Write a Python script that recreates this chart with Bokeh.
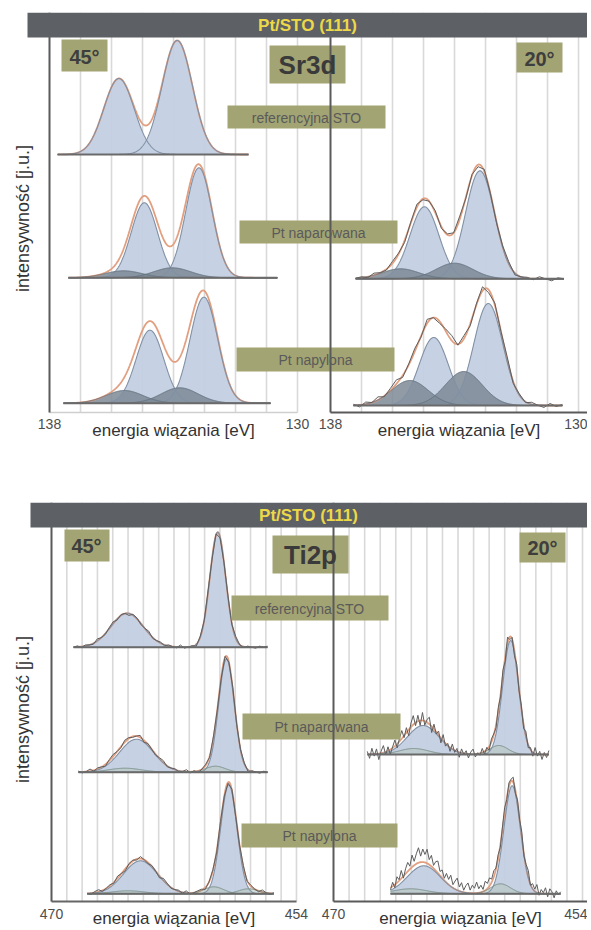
import numpy as np
from bokeh.plotting import figure
from bokeh.models import Range1d, LinearAxis, FixedTicker, BoxAnnotation, Label
from bokeh.layouts import column
from bokeh.embed import file_html
from bokeh.resources import INLINE

FONT = "Liberation Sans"

# ---------------- texts ----------------
banner_title = "Pt/STO (111)"
angle_labels = ["45°", "20°"]
row_labels = ["referencyjna STO", "Pt naparowana", "Pt napylona"]
element_labels = ["Sr3d", "Ti2p"]
x_title = "energia wiązania [eV]"
y_title = "intensywność [j.u.]"

# ---------------- axes ----------------
sr_ticks = [138, 130]
sr_gridlines = [137, 136, 135, 134, 133, 132, 131, 130]
ti_ticks = [470, 454]
ti_gridlines = [469, 468, 467, 466, 465, 464, 463, 462, 461, 460, 459, 458, 457, 456, 455, 454]

# ---------------- spectra ----------------
# components: [centre eV, height (a.u.), FWHM eV]; base = vertical offset of the trace
sr45_ref = dict(span=[137.74, 131.58], base=258.0,
                main=[[135.76, 76, 1.15], [133.88, 114, 1.15]], sec=[], noise=None)
sr45_nap = dict(span=[137.39, 130.65], base=134.7,
                main=[[134.94, 75, 1.0], [133.18, 110, 1.0]],
                sec=[[135.61, 7, 1.4], [134.04, 10, 1.4]], noise=None)
sr45_nyl = dict(span=[137.55, 130.87], base=9.3,
                main=[[134.76, 73, 1.05], [133.02, 106, 1.05]],
                sec=[[135.58, 12.7, 1.4], [133.80, 15.4, 1.4]], noise=None)
sr20_nap_noise = [0, 1, -1, 2, 0, -1, 2, 1, -2, 1, 3, -1, 0, 2, -2, 1, 0, 3, -1, 1,
                  -2, 2, 0, -1, 1, 2, -2, 0, 1, -1, 2, 0, -2, 1, 0]
sr20_nap = dict(span=[137.19, 130.47], base=133.7,
                main=[[134.97, 72, 1.1], [133.18, 108, 1.1]],
                sec=[[135.74, 10, 1.4], [134.00, 15.6, 1.4]], noise=sr20_nap_noise)
sr20_nyl_noise = [1, -2, 2, 0, 3, -1, 2, 4, -2, 1, 3, -1, 4, 0, -2, 2, 5, -1, 3, -2,
                  1, 4, -3, 2, 0, 3, -2, 1, -1, 2, 0, -2, 2, -1, 1]
sr20_nyl = dict(span=[137.26, 130.52], base=7.0,
                main=[[134.67, 68, 1.1], [132.91, 102, 1.1]],
                sec=[[135.44, 25, 1.4], [133.70, 34, 1.4]], noise=sr20_nyl_noise)

ti45_ref_noise = [0, 1, -1, 1, 0, -1, 2, 0, -1, 1, 2, -1, 1, 0, -2, 1, 1, -1, 0, 2,
                  -1, 0, 1, -1, 1, 0, -1, 2, -1, 0, 1, -2, 1, 0, 2, -1, 1, -1, 0, 1,
                  -1, 2, 0, -1, 1, 0, -1, 1, 0, 1]
ti45_ref = dict(span=[468.56, 455.89], base=254.3,
                main=[[465.06, 34, 2.5], [459.14, 115, 1.22]], sec=[], noise=ti45_ref_noise)
ti45_nap_noise = [1, -1, 0, 2, -1, 1, 0, -2, 1, 2, 0, -1, 2, 1, -1, 0, 2, -2, 1, 0,
                  -1, 1, 2, -1, 0, 1, -1, 0, 2, -1, 1, -2, 0, 1, -1, 2, 0, -1, 1, 0,
                  2, -1, 0, 1, -2, 1, 0, -1, 1, 0]
ti45_nap = dict(span=[468.24, 455.89], base=129.3,
                main=[[464.45, 33, 2.6], [458.57, 113, 1.2]],
                sec=[[465.2, 4, 2.5], [459.29, 6, 1.5]], noise=ti45_nap_noise)
ti45_nyl_noise = [0, -1, 1, 2, -1, 0, 1, -1, 2, 0, -2, 1, 1, -1, 2, 0, -1, 1, 0, -2,
                  2, 1, -1, 0, 1, -1, 2, -1, 0, 1, 1, -2, 0, 1, -1, 2, 0, -1, 1, -1,
                  0, 2, -1, 1, 0, -1, 2, 0, -1, 1]
ti45_nyl = dict(span=[467.67, 455.48], base=7.7,
                main=[[464.19, 33, 2.6], [458.42, 109, 1.25]],
                sec=[[465.0, 3, 2.5], [459.4, 7, 1.5], [457.13, 5, 1.5]], noise=ti45_nyl_noise)
ti20_nap_noise = [3, -4, 6, -2, 5, -6, 2, 7, -3, 4, -5, 1, 6, -4, 3, 8, -2, 5, -6, 4,
                  9, -3, 6, -5, 8, -4, 3, 7, -6, 5, -2, 4, -5, 6, -3, 2, -4, 5, -2, 3,
                  -5, 4, -1, 3, -4, 2, 5, -3, 1, -2, 4, -3, 2, -4, 3, 1, -3, 4, -2, 5,
                  -4, 6, -3, 2, -5, 4, -2, 3, -4, 5, -3, 2, -4, 6, -2, 3, -5, 2, -3, 4]
ti20_nap = dict(span=[467.83, 456.16], base=147.0,
                main=[[464.24, 29, 2.4], [458.62, 114, 1.2]],
                sec=[[464.84, 6, 2.2], [459.38, 9, 1.4]], noise=ti20_nap_noise)
ti20_nyl_noise = [-2, 4, -3, 6, 1, 8, -2, 5, 9, 3, 12, 4, 10, 15, 6, 13, 8, 14, 5, 11,
                  3, 9, 12, 4, 8, 2, 9, 5, 11, 3, 8, 12, 4, 9, 2, 7, 10, 3, 8, 5,
                  11, 4, 7, 2, 9, 5, 8, 3, 6, 1, 4, -2, 3, 6, -1, 4, 2, 5, -3, 4,
                  1, 6, -2, 3, 7, -1, 5, 2, 8, -2, 4, 1, 6, -3, 5, 2, -4, 3, -1, 2]
ti20_nyl = dict(span=[466.34, 455.41], base=7.7,
                main=[[464.2, 28, 2.5], [458.52, 108, 1.25]],
                sec=[[465.05, 5, 2.5], [459.27, 10, 1.5]], noise=ti20_nyl_noise)

# ---------------- styles ----------------
BANNER = "#5d6064"
BANNER_TXT = "#ecd848"
BOX = "#a3a473"
GRID = "#d9d9d9"
AXIS = "#5a5a5a"
MAIN_FILL = "#c3d0e3"
MAIN_LINE = "#8190a4"
ENV = "#e29f80"
DATA = "#5e5e5e"
BASE = "#6a6a6a"


def gauss(x, c, a, w):
    return a * np.exp(-4.0 * np.log(2.0) * (x - c) ** 2 / w ** 2)


def draw_spectrum(p, spec, rng, sec_fill, sec_line, sec_alpha):
    e0, e1 = spec["span"]
    b = spec["base"]
    x = np.linspace(e0, e1, 500)
    gm = [gauss(x, *c) for c in spec["main"]]
    gs = [gauss(x, *c) for c in spec["sec"]]
    env = b + sum(gm + gs)
    kw = dict(x_range_name=rng)
    for g in gm:
        p.varea(x=x, y1=b, y2=b + g, fill_color=MAIN_FILL, fill_alpha=0.95, **kw)
    for g in gs:
        p.varea(x=x, y1=b, y2=b + g, fill_color=sec_fill, fill_alpha=sec_alpha, **kw)
    p.line(x, env, line_color=ENV, line_width=1.8, **kw)
    for g in gm:
        p.line(x, b + g, line_color=MAIN_LINE, line_width=1.1, **kw)
    for g in gs:
        p.line(x, b + g, line_color=sec_line, line_width=1.0, **kw)
    if spec["noise"] is not None:
        xm = np.linspace(e0, e1, len(spec["noise"]))
        ym = b + sum(gauss(xm, *c) for c in spec["main"] + spec["sec"]) + np.array(spec["noise"], dtype=float)
        p.line(xm, ym, line_color=DATA, line_width=1.0, **kw)
    p.line([e0, e1], [b, b], line_color=BASE, line_width=2, **kw)


def make_fig(height, x_left, x_right, y_rng, mb_top):
    p = figure(width=587, height=height, x_range=Range1d(*x_left), y_range=Range1d(*y_rng),
               x_axis_type=None, y_axis_type=None, output_backend="svg", toolbar_location=None,
               min_border_left=0, min_border_right=0, min_border_top=mb_top,
               min_border_bottom=0, outline_line_color=None)
    p.extra_x_ranges = {"right": Range1d(*x_right)}
    return p


def add_xaxis(p, rng, ticks, bounds, line_color, line_width, tick_standoff, standoff):
    kw = {} if rng == "default" else dict(x_range_name=rng)
    ax = LinearAxis(ticker=FixedTicker(ticks=ticks), bounds=bounds, fixed_location=0,
                    axis_line_color=line_color, axis_line_width=line_width,
                    major_tick_line_color=None, minor_tick_line_color=None,
                    major_label_text_font=FONT, major_label_text_font_size="14px",
                    major_label_text_color="#4d4d4d", major_label_standoff=tick_standoff,
                    axis_label=x_title, axis_label_text_font=FONT,
                    axis_label_text_font_size="17px", axis_label_text_font_style="normal",
                    axis_label_text_color="#333333", axis_label_standoff=standoff, **kw)
    p.add_layout(ax, "below")


def add_vaxis(p, rng, origin, top):
    kw = {} if rng == "default" else dict(x_range_name=rng)
    ax = LinearAxis(ticker=FixedTicker(ticks=[]), bounds=(0, top), fixed_location=origin,
                    axis_line_color=AXIS, axis_line_width=2,
                    major_tick_line_color=None, minor_tick_line_color=None,
                    major_label_text_font_size="0px", level="overlay", **kw)
    p.add_layout(ax, "left")


def add_box(p, FB, x0, y0, x1, y1, color, level="annotation"):
    p.add_layout(BoxAnnotation(left=x0, right=x1, top=FB - y0, bottom=FB - y1,
                               left_units="screen", right_units="screen",
                               top_units="screen", bottom_units="screen",
                               fill_color=color, fill_alpha=1.0, line_color=None, level=level))


def add_text(p, FB, x, y, text, size, bold, color, angle=0.0):
    p.add_layout(Label(x=x, y=FB - y, x_units="screen", y_units="screen", text=text,
                       text_align="center", text_baseline="middle", text_font=FONT,
                       text_font_size=size, text_font_style="bold" if bold else "normal",
                       text_color=color, angle=angle, level="overlay"))


def build_panel(p, FB, geo, spectra_left, spectra_right, gridlines, origin, top,
                sec_fill, sec_line, sec_alpha):
    for rng in ("default", "right"):
        p.segment(x0=gridlines, x1=gridlines, y0=0, y1=top, line_color=GRID, line_width=1.6,
                  level="underlay", x_range_name=rng)
    for s in spectra_left:
        draw_spectrum(p, s, "default", sec_fill, sec_line, sec_alpha)
    for s in spectra_right:
        draw_spectrum(p, s, "right", sec_fill, sec_line, sec_alpha)
    for (x0, y0, x1, y1) in geo["boxes"]:
        add_box(p, FB, x0, y0, x1, y1, BOX)
    add_vaxis(p, "default", origin, top)
    add_vaxis(p, "right", origin, top)
    for (x, y, t, size, bold, col) in geo["texts"]:
        add_text(p, FB, x, y, t, size, bold, col)
    yx, yy = geo["ylabel"]
    add_text(p, FB, yx, yy, y_title, "18px", False, "#333333", angle=np.pi / 2)
    x0, y0, x1, y1 = geo["banner"]
    add_box(p, FB, x0, y0, x1, y1, BANNER, level="overlay")
    bx, by = geo["banner_text"]
    add_text(p, FB, bx, by, banner_title, "17px", True, BANNER_TXT)


# ---------------- top panel: Sr3d ----------------
FB1 = 478
p1 = make_fig(478, (139.581, 120.645), (148.645, 129.71), (-66, 400), 12)
geo1 = dict(
    boxes=[(61, 39, 107, 71), (269, 45, 345, 83), (227, 105, 385, 128), (516, 42, 562, 72),
           (239, 220, 397, 243), (236, 347, 394, 371)],
    texts=[(84, 56, angle_labels[0], "20px", True, "#3e3e3e"),
           (307, 64, element_labels[0], "26px", True, "#3a3a3a"),
           (306, 117, row_labels[0], "14px", False, "#5a5a5a"),
           (539, 58, angle_labels[1], "20px", True, "#3e3e3e"),
           (318, 232, row_labels[1], "14px", False, "#5a5a5a"),
           (315, 359, row_labels[2], "14px", False, "#5a5a5a")],
    ylabel=(22, 218),
    banner=(27, 12, 587, 37), banner_text=(307, 25))
build_panel(p1, FB1, geo1, [sr45_ref, sr45_nap, sr45_nyl], [sr20_nap, sr20_nyl],
            sr_gridlines, 138, 400, "#7c8a96", "#66737f", 0.85)
add_xaxis(p1, "default", sr_ticks, (130, 138), "#cfcfcf", 1.5, 0, -11)
add_xaxis(p1, "right", sr_ticks, (129.71, 138), AXIS, 2, 0, -11)

# ---------------- bottom panel: Ti2p ----------------
FB2 = 452
p2 = make_fig(452, (473.331, 434.99), (491.401, 453.68), (-29, 399), 24)
# page y of bottom figure elements measured from the page top minus 478
OFF = 478
geo2 = dict(
    boxes=[(64, 529 - OFF, 109, 561 - OFF), (272, 535 - OFF, 348, 573 - OFF),
           (231, 595 - OFF, 388, 620 - OFF), (519, 532 - OFF, 565, 562 - OFF),
           (242, 713 - OFF, 400, 739 - OFF), (241, 823 - OFF, 397, 847 - OFF)],
    texts=[(86, 545 - OFF, angle_labels[0], "20px", True, "#3e3e3e"),
           (310, 554 - OFF, element_labels[1], "26px", True, "#3a3a3a"),
           (309, 608 - OFF, row_labels[0], "14px", False, "#5a5a5a"),
           (542, 547 - OFF, angle_labels[1], "20px", True, "#3e3e3e"),
           (321, 726 - OFF, row_labels[1], "14px", False, "#5a5a5a"),
           (319, 835 - OFF, row_labels[2], "14px", False, "#5a5a5a")],
    ylabel=(22, 709 - OFF),
    banner=(30, 502 - OFF, 587, 527 - OFF), banner_text=(308, 515 - OFF))
build_panel(p2, FB2, geo2, [ti45_ref, ti45_nap, ti45_nyl], [ti20_nap, ti20_nyl],
            ti_gridlines, 470, 399, "#b7c6c0", "#7b9088", 0.6)
add_xaxis(p2, "default", ti_ticks, (454, 470), "#666666", 2, 1, -13)
add_xaxis(p2, "right", ti_ticks, (453.68, 470), AXIS, 2, 1, -13)

layout = column(p1, p2)
open("out.html", "w").write(file_html(layout, INLINE))
